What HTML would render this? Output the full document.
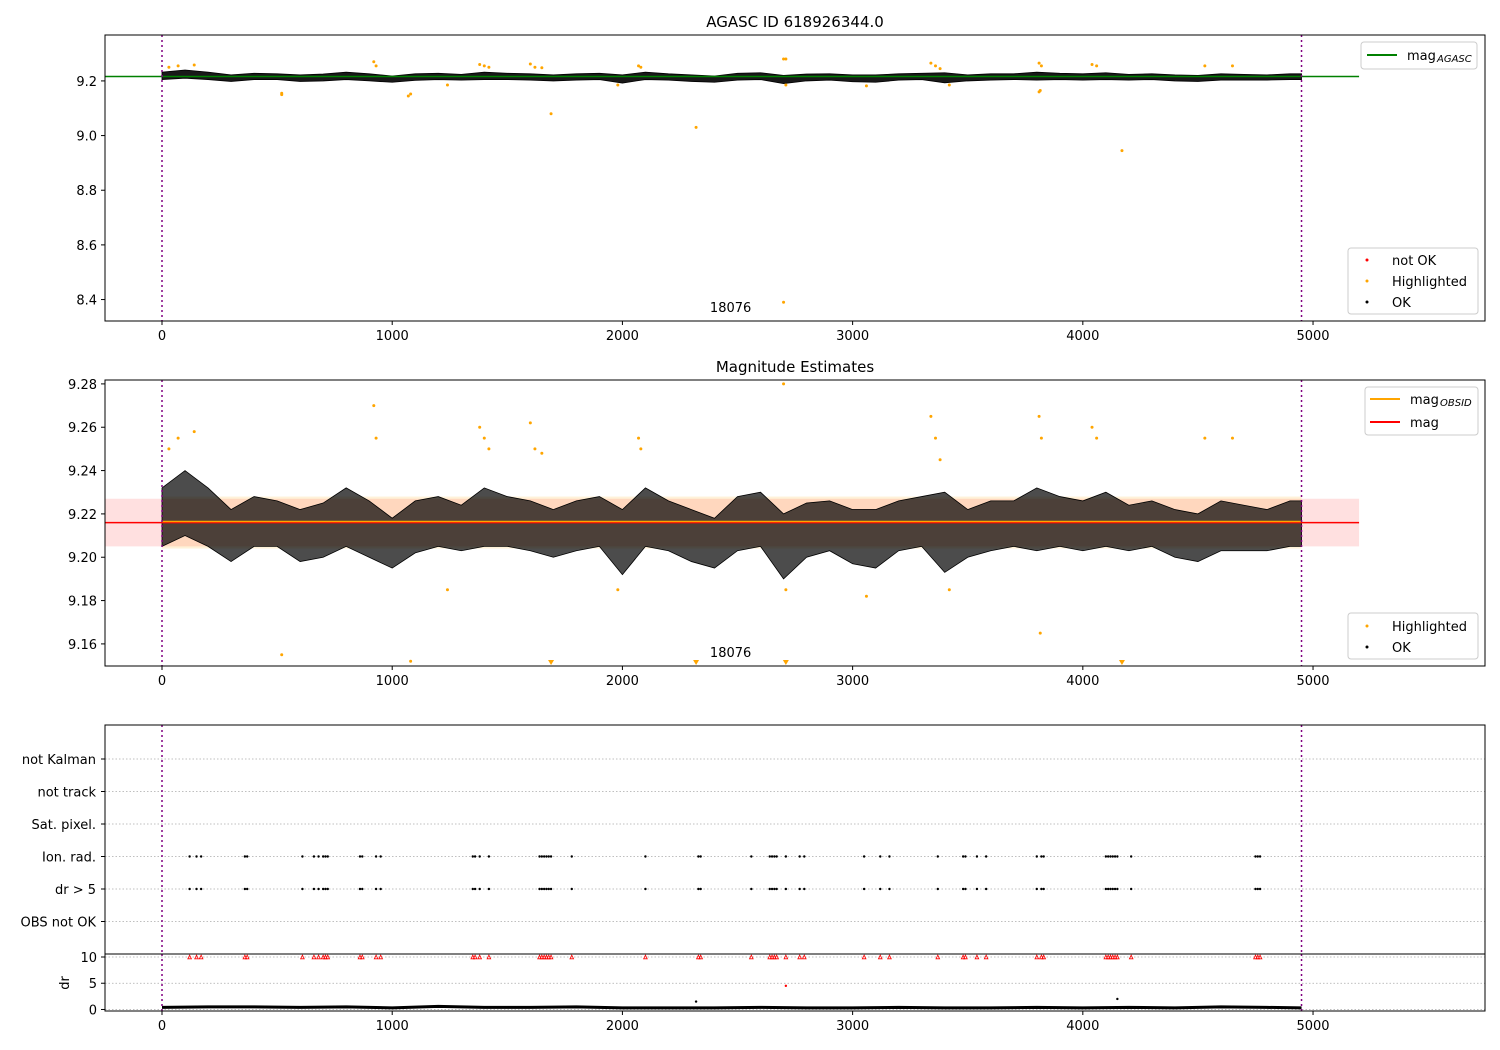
<!DOCTYPE html>
<html><head><meta charset="utf-8"><title>AGASC ID 618926344.0</title>
<style>
html,body{margin:0;padding:0;background:#fff;}
svg{display:block;font-family:"DejaVu Sans","Liberation Sans",sans-serif;}
</style></head>
<body>
<svg id="fig" width="1500" height="1050" viewBox="0 0 1500 1050"></svg>
<script>
// ---- data ----
const binFrames = [0,100,200,300,400,500,600,700,800,900,1000,1100,1200,1300,1400,1500,1600,1700,1800,1900,2000,2100,2200,2300,2400,2500,2600,2700,2800,2900,3000,3100,3200,3300,3400,3500,3600,3700,3800,3900,4000,4100,4200,4300,4400,4500,4600,4700,4800,4900,4950];
const magHi = [9.232,9.240,9.232,9.222,9.228,9.226,9.222,9.225,9.232,9.226,9.218,9.226,9.228,9.224,9.232,9.228,9.226,9.222,9.226,9.228,9.222,9.232,9.226,9.222,9.218,9.228,9.230,9.220,9.225,9.226,9.222,9.222,9.226,9.228,9.230,9.222,9.226,9.226,9.232,9.228,9.226,9.230,9.224,9.226,9.222,9.220,9.226,9.224,9.222,9.226,9.226];
const magLo = [9.205,9.210,9.205,9.198,9.205,9.205,9.198,9.200,9.205,9.200,9.195,9.202,9.205,9.203,9.205,9.205,9.203,9.200,9.203,9.205,9.192,9.205,9.203,9.198,9.195,9.203,9.205,9.190,9.200,9.203,9.197,9.195,9.203,9.205,9.193,9.200,9.203,9.205,9.203,9.205,9.203,9.205,9.203,9.205,9.200,9.198,9.203,9.203,9.203,9.205,9.205];
const hlFrames = [30,70,140,520,920,930,1080,1240,1380,1400,1420,1600,1620,1650,1980,2070,2080,2700,2710,3060,3340,3360,3380,3420,3810,3820,3815,4040,4060,4530,4650];
const hlMags   = [9.25,9.255,9.258,9.155,9.27,9.255,9.152,9.185,9.26,9.255,9.25,9.262,9.25,9.248,9.185,9.255,9.25,9.28,9.185,9.182,9.265,9.255,9.245,9.185,9.265,9.255,9.165,9.26,9.255,9.255,9.255];
const downFrames = [1690,2320,2710,4170];
const topOutFrames = [520,1070,1690,2320,2700,2710,4170,3810];
const topOutMags = [9.15,9.145,9.08,9.03,8.39,9.28,8.945,9.16];
const flagFrames = [120,150,170,360,370,610,660,680,700,710,720,860,870,930,950,1350,1360,1380,1420,1640,1650,1660,1670,1680,1690,1780,2100,2330,2340,2560,2640,2650,2660,2670,2710,2770,2790,3050,3120,3160,3370,3480,3490,3540,3580,3800,3820,3830,4100,4110,4120,4130,4140,4150,4210,4750,4760,4770];
const flagCats = ["not Kalman","not track","Sat. pixel.","Ion. rad.","dr > 5","OBS not OK"];
const drFrames = [0,200,400,600,800,1000,1200,1400,1600,1800,2000,2200,2400,2600,2800,3000,3200,3400,3600,3800,4000,4200,4400,4600,4800,4950];
const drVals = [0.4,0.5,0.5,0.4,0.5,0.3,0.6,0.4,0.4,0.5,0.3,0.3,0.3,0.4,0.3,0.3,0.4,0.3,0.3,0.4,0.3,0.4,0.3,0.5,0.4,0.3];
const drOutFrames = [2320,4150];
const drOutVals = [1.5,2.0];
const magAgasc = 9.216, magMean = 9.216, magObsid = 9.2165;
const xTicks = [0,1000,2000,3000,4000,5000];
const yTicks1 = [8.4,8.6,8.8,9.0,9.2];
const yTicks2 = [9.16,9.18,9.20,9.22,9.24,9.26,9.28];
const drTicks = [0,5,10];

// ---- helpers ----
const NS="http://www.w3.org/2000/svg";
const fig=document.getElementById('fig');
function mk(tag,attrs,parent){const e=document.createElementNS(NS,tag);for(const k in attrs)e.setAttribute(k,attrs[k]);(parent||fig).appendChild(e);return e;}
const X0=105,X1=1485,xmin=-247.6,xmax=5747;
const sx=v=>X0+(v-xmin)/(xmax-xmin)*(X1-X0);
function ys(top,bot,vmin,vmax){return v=>bot-(v-vmin)/(vmax-vmin)*(bot-top);}
function txt(x,y,s,anchor,size,parent){const t=mk('text',{x:x,y:y,'text-anchor':anchor||'middle','font-size':size||13,fill:'#000'},parent);t.textContent=s;return t;}
function xAxis(bot,g){xTicks.forEach(v=>{mk('line',{x1:sx(v),x2:sx(v),y1:bot,y2:bot+4,stroke:'#000'},g);const t=txt(sx(v),bot+19,String(v),'middle',13,g);

});}
function frame(top,bot,g){mk('rect',{x:X0,y:top,width:X1-X0,height:bot-top,fill:'none',stroke:'#000','stroke-width':1},g);}
function vlines(top,bot,g){[0,4950].forEach(v=>mk('line',{x1:sx(v),x2:sx(v),y1:top,y2:bot,stroke:'purple','stroke-width':1.5,'stroke-dasharray':'2,3'},g));}
function band(ys_,g,op){let d='M';binFrames.forEach((f,i)=>{d+=sx(f)+','+ys_(magHi[i])+' L';});for(let i=binFrames.length-1;i>=0;i--){d+=sx(binFrames[i])+','+ys_(magLo[i])+(i?' L':' Z');}
const p=mk('path',{d:d,fill:'#000','fill-opacity':op,stroke:'#000','stroke-width':0.8},g);

}

// ---- panel 1 ----
const g1=mk('g',{});


const T1=35,B1=321,y1=ys(T1,B1,8.3215,9.368);
const t1=txt(795,27,'AGASC ID 618926344.0','middle',15,g1);


yTicks1.forEach(v=>{mk('line',{x1:X0-4,x2:X0,y1:y1(v),y2:y1(v),stroke:'#000'},g1);const t=txt(X0-8,y1(v)+5,v.toFixed(1),'end',13,g1);

});
band(y1,g1,0.9);
hlFrames.forEach((f,i)=>{const c=mk('circle',{cx:sx(f),cy:y1(hlMags[i]),r:1.5,fill:'orange'},g1);

});
topOutFrames.forEach((f,i)=>{const c=mk('circle',{cx:sx(f),cy:y1(topOutMags[i]),r:1.5,fill:'orange'},g1);

});
const gl=mk('line',{x1:sx(xmin),x2:sx(5200),y1:y1(magAgasc),y2:y1(magAgasc),stroke:'green','stroke-width':1.5},g1);


vlines(T1,B1,g1);
txt(sx(2470),312,'18076','middle',13,g1);
frame(T1,B1,g1);xAxis(B1,g1);
const lg1=mk('g',{},g1);


mk('rect',{x:1361,y:42,width:116,height:27,rx:3,fill:'#fff',stroke:'#ccc'},lg1);
mk('line',{x1:1367,x2:1397,y1:55,y2:55,stroke:'green','stroke-width':2},lg1);
txt(1407,60,'mag','start',13,lg1);txt(1437,62,'AGASC','start',10,lg1).setAttribute('font-style','italic');
const lg2=mk('g',{},g1);


mk('rect',{x:1348,y:248,width:130,height:66,rx:3,fill:'#fff',stroke:'#ccc'},lg2);
[['red','not OK',260],['orange','Highlighted',281],['#000','OK',302]].forEach(a=>{mk('circle',{cx:1367,cy:a[2],r:1.5,fill:a[0]},lg2);txt(1392,a[2]+5,a[1],'start',13,lg2);});

// ---- panel 2 ----
const g2=mk('g',{});


const T2=380,B2=666,y2=ys(T2,B2,9.1498,9.2818);
const t2=txt(795,372,'Magnitude Estimates','middle',15,g2);


yTicks2.forEach(v=>{mk('line',{x1:X0-4,x2:X0,y1:y2(v),y2:y2(v),stroke:'#000'},g2);const t=txt(X0-8,y2(v)+5,v.toFixed(2),'end',13,g2);

});
mk('rect',{x:sx(xmin),y:y2(9.227),width:sx(5200)-sx(xmin),height:y2(9.205)-y2(9.227),fill:'red','fill-opacity':0.12},g2);
mk('rect',{x:sx(0),y:y2(9.228),width:sx(4950)-sx(0),height:y2(9.204)-y2(9.228),fill:'orange','fill-opacity':0.15},g2);
band(y2,g2,0.7);
hlFrames.forEach((f,i)=>{const c=mk('circle',{cx:sx(f),cy:y2(hlMags[i]),r:1.5,fill:'orange'},g2);

});
downFrames.forEach(f=>{const x=sx(f),y=B2-3;const p=mk('path',{d:`M${x-3},${y-3} L${x+3},${y-3} L${x},${y+2} Z`,fill:'orange'},g2);

});
const rl=mk('line',{x1:sx(xmin),x2:sx(5200),y1:y2(magMean),y2:y2(magMean),stroke:'red','stroke-width':1.5},g2);


const ol=mk('line',{x1:sx(0),x2:sx(4950),y1:y2(magObsid),y2:y2(magObsid),stroke:'orange','stroke-width':1.5},g2);


vlines(T2,B2,g2);
txt(sx(2470),657,'18076','middle',13,g2);
frame(T2,B2,g2);xAxis(B2,g2);
const lg3=mk('g',{},g2);


mk('rect',{x:1365,y:387,width:113,height:48,rx:3,fill:'#fff',stroke:'#ccc'},lg3);
mk('line',{x1:1370,x2:1400,y1:399,y2:399,stroke:'orange','stroke-width':2},lg3);
mk('line',{x1:1370,x2:1400,y1:422,y2:422,stroke:'red','stroke-width':2},lg3);
txt(1410,404,'mag','start',13,lg3);txt(1440,406,'OBSID','start',10,lg3).setAttribute('font-style','italic');
txt(1410,427,'mag','start',13,lg3);
const lg4=mk('g',{},g2);


mk('rect',{x:1348,y:613,width:130,height:46,rx:3,fill:'#fff',stroke:'#ccc'},lg4);
[['orange','Highlighted',626],['#000','OK',647]].forEach(a=>{mk('circle',{cx:1367,cy:a[2],r:1.5,fill:a[0]},lg4);txt(1392,a[2]+5,a[1],'start',13,lg4);});

// ---- panel 3 flags ----
const g3=mk('g',{});


const T3=725,B3=954;
const catY=i=>759+i*32.5;
flagCats.forEach((c,i)=>{mk('line',{x1:X0,x2:X1,y1:catY(i),y2:catY(i),stroke:'#aaa','stroke-dasharray':'1.5,2','stroke-width':0.8},g3);
mk('line',{x1:X0-4,x2:X0,y1:catY(i),y2:catY(i),stroke:'#000'},g3);
const t=txt(X0-9,catY(i)+5,c,'end',13,g3);

});
[3,4].forEach(ci=>flagFrames.forEach(f=>{const c=mk('circle',{cx:sx(f),cy:catY(ci),r:1.2,fill:'#000'},g3);

}));
vlines(T3,B3,g3);
mk('rect',{x:X0,y:T3,width:X1-X0,height:B3-T3,fill:'none',stroke:'#000'},g3);

// ---- dr panel ----
const g4=mk('g',{});


const T4=954,B4=1011,y4=ys(T4,B4,-0.29,10.57);
drTicks.forEach(v=>{mk('line',{x1:X0,x2:X1,y1:y4(v),y2:y4(v),stroke:'#aaa','stroke-dasharray':'1.5,2','stroke-width':0.8},g4);
mk('line',{x1:X0-4,x2:X0,y1:y4(v),y2:y4(v),stroke:'#000'},g4);
const t=txt(X0-8,y4(v)+5,String(v),'end',13,g4);

});
const yl=txt(0,0,'dr','middle',13,g4);yl.setAttribute('transform','translate(69,983) rotate(-90)');


let d='';drFrames.forEach((f,i)=>{d+=(i?'L':'M')+sx(f)+','+y4(drVals[i]);});
const dl=mk('path',{d:d,fill:'none',stroke:'#000','stroke-width':3},g4);


drOutFrames.forEach((f,i)=>mk('circle',{cx:sx(f),cy:y4(drOutVals[i]),r:1.2,fill:'#000'},g4));
mk('circle',{cx:sx(2710),cy:y4(4.5),r:1.2,fill:'red'},g4);
flagFrames.forEach(f=>{const x=sx(f),y=y4(10);const p=mk('path',{d:`M${x-1.8},${y+1.8} L${x+1.8},${y+1.8} L${x},${y-1.8} Z`,fill:'none',stroke:'red','stroke-width':0.8},g4);

});
vlines(T4,B4,g4);
mk('rect',{x:X0,y:T4,width:X1-X0,height:B4-T4,fill:'none',stroke:'#000'},g4);
xAxis(B4,g4);
</script>
</body></html>
